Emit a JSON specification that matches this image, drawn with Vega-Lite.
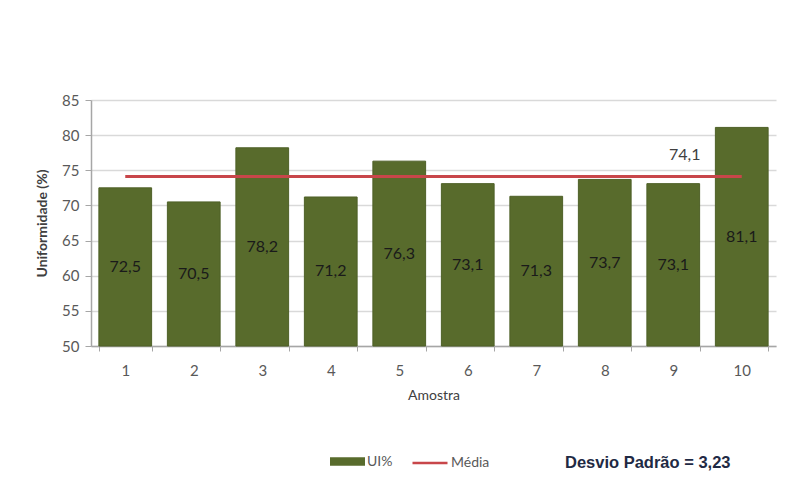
{
  "$schema": "https://vega.github.io/schema/vega-lite/v6.json",
  "width": 685,
  "height": 246,
  "autosize": {"type": "none"},
  "padding": {"left": 91, "top": 100, "right": 23, "bottom": 144},
  "background": "white",
  "config": {
    "locale": {"number": {"decimal": ",", "thousands": ".", "grouping": [3], "currency": ["R$", ""]}},
    "font": "Lato",
    "view": {"stroke": null},
    "axis": {
      "labelFont": "Lato",
      "titleFont": "Lato",
      "labelColor": "#595959",
      "titleColor": "#404040",
      "labelFontSize": 15,
      "titleFontSize": 14,
      "domainColor": "#a6a6a6",
      "tickColor": "#a6a6a6",
      "gridColor": "#d9d9d9",
      "gridWidth": 1.5
    },
    "legend": {
      "labelFont": "Lato",
      "labelFontSize": 14,
      "labelColor": "#595959",
      "labelOffset": 2,
      "title": null
    }
  },
  "title": {
    "text": "Desvio Padrão = 3,23",
    "orient": "bottom",
    "anchor": "start",
    "frame": "group",
    "dx": 474,
    "offset": -15,
    "font": "Liberation Sans",
    "fontSize": 16.5,
    "fontWeight": "bold",
    "color": "#1f2a44"
  },
  "data": {
    "values": [
      {"Amostra": "1", "UI": 72.5, "Media": 74.1},
      {"Amostra": "2", "UI": 70.5, "Media": 74.1},
      {"Amostra": "3", "UI": 78.2, "Media": 74.1},
      {"Amostra": "4", "UI": 71.2, "Media": 74.1},
      {"Amostra": "5", "UI": 76.3, "Media": 74.1},
      {"Amostra": "6", "UI": 73.1, "Media": 74.1},
      {"Amostra": "7", "UI": 71.3, "Media": 74.1},
      {"Amostra": "8", "UI": 73.7, "Media": 74.1},
      {"Amostra": "9", "UI": 73.1, "Media": 74.1},
      {"Amostra": "10", "UI": 81.1, "Media": 74.1}
    ]
  },
  "encoding": {
    "x": {
      "field": "Amostra",
      "type": "ordinal",
      "sort": null,
      "scale": {"paddingInner": 0.23, "paddingOuter": 0.115},
      "axis": {
        "title": "Amostra",
        "labelAngle": 0,
        "labelPadding": 12,
        "titlePadding": 10,
        "titleFontWeight": "normal",
        "titleColor": "#404040",
        "tickBand": "extent",
        "tickSize": 5,
        "domainWidth": 1.5
      }
    }
  },
  "resolve": {"scale": {"color": "independent"}, "legend": {"color": "independent"}},
  "layer": [
    {
      "mark": {"type": "bar", "color": "#586b2c", "stroke": "#4e6027", "strokeWidth": 1},
      "encoding": {
        "y": {
          "field": "UI",
          "type": "quantitative",
          "scale": {"domain": [50, 85], "zero": false, "nice": false},
          "axis": {
            "title": "Uniformidade (%)",
            "titleFontWeight": "bold",
            "titlePadding": 12,
            "tickCount": 8,
            "values": [50, 55, 60, 65, 70, 75, 80, 85],
            "labelPadding": 6,
            "tickSize": 6,
            "domainWidth": 1.5
          }
        },
        "y2": {"datum": 50},
        "color": {
          "datum": "UI%",
          "type": "nominal",
          "scale": {"domain": ["UI%"], "range": ["#586b2c"]},
          "legend": {
            "orient": "none",
            "legendX": 239,
            "legendY": 344,
            "symbolSize": 1225,
            "symbolType": "M-1,-0.24H1V0.24H-1Z",
            "symbolStrokeWidth": 0
          }
        }
      }
    },
    {
      "transform": [{"calculate": "(datum.UI + 50) / 2", "as": "meio"}],
      "mark": {"type": "text", "font": "Lato", "fontSize": 16, "color": "#1a1a1a", "baseline": "middle"},
      "encoding": {
        "y": {"field": "meio", "type": "quantitative"},
        "text": {"field": "UI", "type": "quantitative", "format": ".1f"}
      }
    },
    {
      "mark": {"type": "line", "color": "#c8464a", "strokeWidth": 3},
      "encoding": {
        "y": {"field": "Media", "type": "quantitative"},
        "color": {
          "datum": "Média",
          "type": "nominal",
          "scale": {"domain": ["Média"], "range": ["#c8464a"]},
          "legend": {
            "orient": "none",
            "legendX": 320,
            "legendY": 344,
            "symbolSize": 1225,
            "symbolType": "stroke",
            "symbolStrokeWidth": 2.5
          }
        }
      }
    },
    {
      "transform": [{"filter": "datum.Amostra === '10'"}],
      "mark": {"type": "text", "font": "Lato", "fontSize": 16, "color": "#404040", "dx": -57, "dy": -22, "baseline": "middle"},
      "encoding": {
        "y": {"field": "Media", "type": "quantitative"},
        "text": {"field": "Media", "type": "quantitative", "format": ".1f"}
      }
    }
  ]
}
